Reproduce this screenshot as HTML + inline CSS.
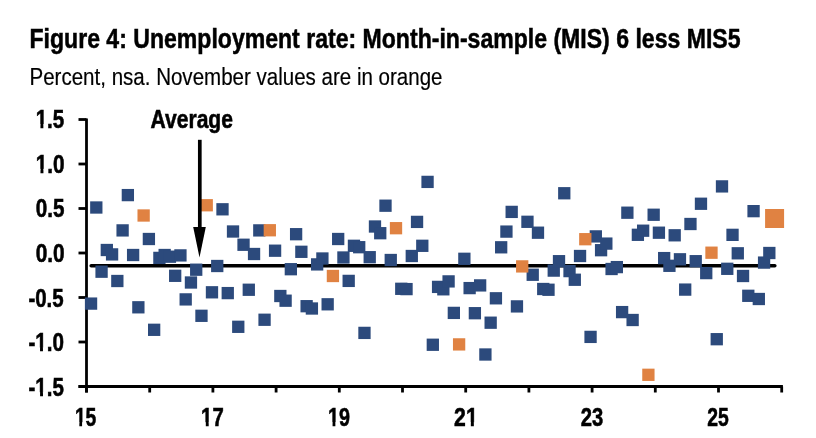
<!DOCTYPE html>
<html><head><meta charset="utf-8"><style>
html,body{margin:0;padding:0;background:#fff;}
svg{display:block;will-change:transform;}
text{font-family:"Liberation Sans",sans-serif;fill:#000;}
</style></head><body>
<svg width="816" height="438" viewBox="0 0 816 438">
<g stroke="#000" stroke-width="2.8" fill="none">
<line x1="86.5" y1="118.6" x2="86.5" y2="392.5"/>
<line x1="78.5" y1="119.50" x2="86.5" y2="119.50"/>
<line x1="78.5" y1="164.00" x2="86.5" y2="164.00"/>
<line x1="78.5" y1="208.50" x2="86.5" y2="208.50"/>
<line x1="78.5" y1="253.00" x2="86.5" y2="253.00"/>
<line x1="78.5" y1="297.50" x2="86.5" y2="297.50"/>
<line x1="78.5" y1="342.00" x2="86.5" y2="342.00"/>
<line x1="78.5" y1="386.50" x2="86.5" y2="386.50"/>
<line x1="78.5" y1="386.5" x2="782.9" y2="386.5"/>
<line x1="86.50" y1="386.5" x2="86.50" y2="392.5"/>
<line x1="149.70" y1="386.5" x2="149.70" y2="392.5"/>
<line x1="212.90" y1="386.5" x2="212.90" y2="392.5"/>
<line x1="276.10" y1="386.5" x2="276.10" y2="392.5"/>
<line x1="339.30" y1="386.5" x2="339.30" y2="392.5"/>
<line x1="402.50" y1="386.5" x2="402.50" y2="392.5"/>
<line x1="465.70" y1="386.5" x2="465.70" y2="392.5"/>
<line x1="528.90" y1="386.5" x2="528.90" y2="392.5"/>
<line x1="592.10" y1="386.5" x2="592.10" y2="392.5"/>
<line x1="655.30" y1="386.5" x2="655.30" y2="392.5"/>
<line x1="718.50" y1="386.5" x2="718.50" y2="392.5"/>
<line x1="781.70" y1="386.5" x2="781.70" y2="392.5"/>
</g>
<line x1="91.2" y1="265.7" x2="774.8" y2="265.7" stroke="#000" stroke-width="3.6" stroke-linecap="round"/>
<rect x="84.90" y="297.45" width="12.3" height="12.3" fill="#2c4a7c"/>
<rect x="90.16" y="201.35" width="12.3" height="12.3" fill="#2c4a7c"/>
<rect x="95.42" y="265.55" width="12.3" height="12.3" fill="#2c4a7c"/>
<rect x="100.67" y="243.85" width="12.3" height="12.3" fill="#2c4a7c"/>
<rect x="105.93" y="248.25" width="12.3" height="12.3" fill="#2c4a7c"/>
<rect x="111.19" y="274.85" width="12.3" height="12.3" fill="#2c4a7c"/>
<rect x="116.45" y="224.25" width="12.3" height="12.3" fill="#2c4a7c"/>
<rect x="121.71" y="188.95" width="12.3" height="12.3" fill="#2c4a7c"/>
<rect x="126.96" y="248.85" width="12.3" height="12.3" fill="#2c4a7c"/>
<rect x="132.22" y="301.15" width="12.3" height="12.3" fill="#2c4a7c"/>
<rect x="142.74" y="232.85" width="12.3" height="12.3" fill="#2c4a7c"/>
<rect x="148.00" y="323.65" width="12.3" height="12.3" fill="#2c4a7c"/>
<rect x="153.25" y="251.75" width="12.3" height="12.3" fill="#2c4a7c"/>
<rect x="158.51" y="248.85" width="12.3" height="12.3" fill="#2c4a7c"/>
<rect x="163.77" y="250.55" width="12.3" height="12.3" fill="#2c4a7c"/>
<rect x="169.03" y="269.65" width="12.3" height="12.3" fill="#2c4a7c"/>
<rect x="174.29" y="249.25" width="12.3" height="12.3" fill="#2c4a7c"/>
<rect x="179.54" y="293.25" width="12.3" height="12.3" fill="#2c4a7c"/>
<rect x="184.80" y="276.35" width="12.3" height="12.3" fill="#2c4a7c"/>
<rect x="190.06" y="263.55" width="12.3" height="12.3" fill="#2c4a7c"/>
<rect x="195.32" y="309.65" width="12.3" height="12.3" fill="#2c4a7c"/>
<rect x="205.83" y="286.15" width="12.3" height="12.3" fill="#2c4a7c"/>
<rect x="211.09" y="259.85" width="12.3" height="12.3" fill="#2c4a7c"/>
<rect x="216.35" y="203.15" width="12.3" height="12.3" fill="#2c4a7c"/>
<rect x="221.61" y="286.95" width="12.3" height="12.3" fill="#2c4a7c"/>
<rect x="226.87" y="225.35" width="12.3" height="12.3" fill="#2c4a7c"/>
<rect x="232.12" y="320.65" width="12.3" height="12.3" fill="#2c4a7c"/>
<rect x="237.38" y="238.60" width="12.3" height="12.3" fill="#2c4a7c"/>
<rect x="242.64" y="283.60" width="12.3" height="12.3" fill="#2c4a7c"/>
<rect x="247.90" y="247.85" width="12.3" height="12.3" fill="#2c4a7c"/>
<rect x="253.16" y="224.25" width="12.3" height="12.3" fill="#2c4a7c"/>
<rect x="258.41" y="313.60" width="12.3" height="12.3" fill="#2c4a7c"/>
<rect x="268.93" y="244.55" width="12.3" height="12.3" fill="#2c4a7c"/>
<rect x="274.19" y="289.85" width="12.3" height="12.3" fill="#2c4a7c"/>
<rect x="279.45" y="294.55" width="12.3" height="12.3" fill="#2c4a7c"/>
<rect x="284.70" y="263.05" width="12.3" height="12.3" fill="#2c4a7c"/>
<rect x="289.96" y="228.05" width="12.3" height="12.3" fill="#2c4a7c"/>
<rect x="295.22" y="245.65" width="12.3" height="12.3" fill="#2c4a7c"/>
<rect x="300.48" y="300.05" width="12.3" height="12.3" fill="#2c4a7c"/>
<rect x="305.74" y="302.35" width="12.3" height="12.3" fill="#2c4a7c"/>
<rect x="310.99" y="258.25" width="12.3" height="12.3" fill="#2c4a7c"/>
<rect x="316.25" y="252.35" width="12.3" height="12.3" fill="#2c4a7c"/>
<rect x="321.51" y="298.15" width="12.3" height="12.3" fill="#2c4a7c"/>
<rect x="332.03" y="232.85" width="12.3" height="12.3" fill="#2c4a7c"/>
<rect x="337.28" y="251.35" width="12.3" height="12.3" fill="#2c4a7c"/>
<rect x="342.54" y="274.75" width="12.3" height="12.3" fill="#2c4a7c"/>
<rect x="347.80" y="239.65" width="12.3" height="12.3" fill="#2c4a7c"/>
<rect x="353.06" y="241.05" width="12.3" height="12.3" fill="#2c4a7c"/>
<rect x="358.32" y="326.75" width="12.3" height="12.3" fill="#2c4a7c"/>
<rect x="363.57" y="251.05" width="12.3" height="12.3" fill="#2c4a7c"/>
<rect x="368.83" y="220.35" width="12.3" height="12.3" fill="#2c4a7c"/>
<rect x="374.09" y="227.05" width="12.3" height="12.3" fill="#2c4a7c"/>
<rect x="379.35" y="199.55" width="12.3" height="12.3" fill="#2c4a7c"/>
<rect x="384.61" y="253.85" width="12.3" height="12.3" fill="#2c4a7c"/>
<rect x="395.12" y="282.65" width="12.3" height="12.3" fill="#2c4a7c"/>
<rect x="400.38" y="282.95" width="12.3" height="12.3" fill="#2c4a7c"/>
<rect x="405.64" y="249.85" width="12.3" height="12.3" fill="#2c4a7c"/>
<rect x="410.90" y="215.75" width="12.3" height="12.3" fill="#2c4a7c"/>
<rect x="416.15" y="239.65" width="12.3" height="12.3" fill="#2c4a7c"/>
<rect x="421.41" y="175.75" width="12.3" height="12.3" fill="#2c4a7c"/>
<rect x="426.67" y="338.60" width="12.3" height="12.3" fill="#2c4a7c"/>
<rect x="431.93" y="280.75" width="12.3" height="12.3" fill="#2c4a7c"/>
<rect x="437.19" y="283.15" width="12.3" height="12.3" fill="#2c4a7c"/>
<rect x="442.44" y="275.25" width="12.3" height="12.3" fill="#2c4a7c"/>
<rect x="447.70" y="306.75" width="12.3" height="12.3" fill="#2c4a7c"/>
<rect x="458.22" y="252.65" width="12.3" height="12.3" fill="#2c4a7c"/>
<rect x="463.48" y="281.95" width="12.3" height="12.3" fill="#2c4a7c"/>
<rect x="468.73" y="307.05" width="12.3" height="12.3" fill="#2c4a7c"/>
<rect x="473.99" y="279.25" width="12.3" height="12.3" fill="#2c4a7c"/>
<rect x="479.25" y="348.35" width="12.3" height="12.3" fill="#2c4a7c"/>
<rect x="484.51" y="316.55" width="12.3" height="12.3" fill="#2c4a7c"/>
<rect x="489.77" y="292.15" width="12.3" height="12.3" fill="#2c4a7c"/>
<rect x="495.02" y="241.15" width="12.3" height="12.3" fill="#2c4a7c"/>
<rect x="500.28" y="225.45" width="12.3" height="12.3" fill="#2c4a7c"/>
<rect x="505.54" y="205.75" width="12.3" height="12.3" fill="#2c4a7c"/>
<rect x="510.80" y="300.25" width="12.3" height="12.3" fill="#2c4a7c"/>
<rect x="521.31" y="215.65" width="12.3" height="12.3" fill="#2c4a7c"/>
<rect x="526.57" y="268.60" width="12.3" height="12.3" fill="#2c4a7c"/>
<rect x="531.83" y="226.55" width="12.3" height="12.3" fill="#2c4a7c"/>
<rect x="537.09" y="282.85" width="12.3" height="12.3" fill="#2c4a7c"/>
<rect x="542.35" y="283.60" width="12.3" height="12.3" fill="#2c4a7c"/>
<rect x="547.60" y="264.45" width="12.3" height="12.3" fill="#2c4a7c"/>
<rect x="552.86" y="255.05" width="12.3" height="12.3" fill="#2c4a7c"/>
<rect x="558.12" y="187.10" width="12.3" height="12.3" fill="#2c4a7c"/>
<rect x="563.38" y="264.95" width="12.3" height="12.3" fill="#2c4a7c"/>
<rect x="568.64" y="273.60" width="12.3" height="12.3" fill="#2c4a7c"/>
<rect x="573.89" y="249.85" width="12.3" height="12.3" fill="#2c4a7c"/>
<rect x="584.41" y="330.75" width="12.3" height="12.3" fill="#2c4a7c"/>
<rect x="589.67" y="230.25" width="12.3" height="12.3" fill="#2c4a7c"/>
<rect x="594.93" y="244.05" width="12.3" height="12.3" fill="#2c4a7c"/>
<rect x="600.18" y="237.45" width="12.3" height="12.3" fill="#2c4a7c"/>
<rect x="605.44" y="262.85" width="12.3" height="12.3" fill="#2c4a7c"/>
<rect x="610.70" y="260.95" width="12.3" height="12.3" fill="#2c4a7c"/>
<rect x="615.96" y="305.95" width="12.3" height="12.3" fill="#2c4a7c"/>
<rect x="621.22" y="206.55" width="12.3" height="12.3" fill="#2c4a7c"/>
<rect x="626.47" y="313.85" width="12.3" height="12.3" fill="#2c4a7c"/>
<rect x="631.73" y="228.65" width="12.3" height="12.3" fill="#2c4a7c"/>
<rect x="636.99" y="224.55" width="12.3" height="12.3" fill="#2c4a7c"/>
<rect x="647.51" y="208.60" width="12.3" height="12.3" fill="#2c4a7c"/>
<rect x="652.76" y="226.55" width="12.3" height="12.3" fill="#2c4a7c"/>
<rect x="658.02" y="251.95" width="12.3" height="12.3" fill="#2c4a7c"/>
<rect x="663.28" y="259.65" width="12.3" height="12.3" fill="#2c4a7c"/>
<rect x="668.54" y="229.15" width="12.3" height="12.3" fill="#2c4a7c"/>
<rect x="673.80" y="253.15" width="12.3" height="12.3" fill="#2c4a7c"/>
<rect x="679.05" y="283.45" width="12.3" height="12.3" fill="#2c4a7c"/>
<rect x="684.31" y="217.85" width="12.3" height="12.3" fill="#2c4a7c"/>
<rect x="689.57" y="255.05" width="12.3" height="12.3" fill="#2c4a7c"/>
<rect x="694.83" y="197.60" width="12.3" height="12.3" fill="#2c4a7c"/>
<rect x="700.09" y="266.95" width="12.3" height="12.3" fill="#2c4a7c"/>
<rect x="710.60" y="333.05" width="12.3" height="12.3" fill="#2c4a7c"/>
<rect x="715.86" y="180.25" width="12.3" height="12.3" fill="#2c4a7c"/>
<rect x="721.12" y="262.65" width="12.3" height="12.3" fill="#2c4a7c"/>
<rect x="726.38" y="228.70" width="12.3" height="12.3" fill="#2c4a7c"/>
<rect x="731.63" y="247.15" width="12.3" height="12.3" fill="#2c4a7c"/>
<rect x="736.89" y="269.85" width="12.3" height="12.3" fill="#2c4a7c"/>
<rect x="742.15" y="289.65" width="12.3" height="12.3" fill="#2c4a7c"/>
<rect x="747.41" y="205.00" width="12.3" height="12.3" fill="#2c4a7c"/>
<rect x="752.67" y="292.85" width="12.3" height="12.3" fill="#2c4a7c"/>
<rect x="757.92" y="256.45" width="12.3" height="12.3" fill="#2c4a7c"/>
<rect x="763.18" y="246.85" width="12.3" height="12.3" fill="#2c4a7c"/>
<rect x="137.48" y="209.35" width="12.3" height="12.3" fill="#e08242"/>
<rect x="200.58" y="199.10" width="12.3" height="12.3" fill="#e08242"/>
<rect x="263.67" y="224.10" width="12.3" height="12.3" fill="#e08242"/>
<rect x="326.77" y="269.85" width="12.3" height="12.3" fill="#e08242"/>
<rect x="389.86" y="222.05" width="12.3" height="12.3" fill="#e08242"/>
<rect x="452.96" y="338.25" width="12.3" height="12.3" fill="#e08242"/>
<rect x="516.06" y="260.25" width="12.3" height="12.3" fill="#e08242"/>
<rect x="579.15" y="233.05" width="12.3" height="12.3" fill="#e08242"/>
<rect x="642.25" y="368.65" width="12.3" height="12.3" fill="#e08242"/>
<rect x="705.34" y="246.55" width="12.3" height="12.3" fill="#e08242"/>
<rect x="765.09" y="209.00" width="19.0" height="19.0" fill="#e08242"/>
<line x1="199.8" y1="139.8" x2="199.8" y2="235" stroke="#000" stroke-width="3.7"/>
<polygon points="193.2,227 205.8,227 199.5,257.5" fill="#000"/>
<text x="29.5" y="47.9" font-size="28.5" font-weight="bold" stroke="#000" stroke-width="0.55" textLength="711" lengthAdjust="spacingAndGlyphs">Figure 4: Unemployment rate: Month-in-sample (MIS) 6 less MIS5</text>
<text x="29.5" y="84.9" font-size="24.4" font-weight="normal" stroke="#000" stroke-width="0.2" textLength="413" lengthAdjust="spacingAndGlyphs">Percent, nsa. November values are in orange</text>
<text x="150.5" y="127.9" font-size="25.4" font-weight="bold" stroke="#000" stroke-width="0.55" textLength="82.5" lengthAdjust="spacingAndGlyphs">Average</text>
<text transform="translate(35.69,127.90) scale(0.8030,1)" font-size="25.6" font-weight="bold" stroke="#000" stroke-width="0.6">1.5</text>
<text transform="translate(35.68,172.57) scale(0.8113,1)" font-size="25.6" font-weight="bold" stroke="#000" stroke-width="0.6">1.0</text>
<text transform="translate(35.68,217.24) scale(0.8062,1)" font-size="25.6" font-weight="bold" stroke="#000" stroke-width="0.6">0.5</text>
<text transform="translate(35.68,261.91) scale(0.8143,1)" font-size="25.6" font-weight="bold" stroke="#000" stroke-width="0.6">0.0</text>
<text transform="translate(28.40,306.58) scale(0.7995,1)" font-size="25.6" font-weight="bold" stroke="#000" stroke-width="0.6">-0.5</text>
<text transform="translate(28.39,351.25) scale(0.8059,1)" font-size="25.6" font-weight="bold" stroke="#000" stroke-width="0.6">-1.0</text>
<text transform="translate(28.50,395.92) scale(0.8019,1)" font-size="25.6" font-weight="bold" stroke="#000" stroke-width="0.6">-1.5</text>
<text transform="translate(74.88,426.10) scale(0.7307,1)" font-size="26.4" font-weight="bold" stroke="#000" stroke-width="0.6">15</text>
<text transform="translate(201.11,426.10) scale(0.7689,1)" font-size="26.4" font-weight="bold" stroke="#000" stroke-width="0.6">17</text>
<text transform="translate(328.00,426.10) scale(0.7487,1)" font-size="26.4" font-weight="bold" stroke="#000" stroke-width="0.6">19</text>
<text transform="translate(454.06,426.10) scale(0.8068,1)" font-size="26.4" font-weight="bold" stroke="#000" stroke-width="0.6">21</text>
<text transform="translate(580.80,426.10) scale(0.7656,1)" font-size="26.4" font-weight="bold" stroke="#000" stroke-width="0.6">23</text>
<text transform="translate(707.13,426.10) scale(0.7325,1)" font-size="26.4" font-weight="bold" stroke="#000" stroke-width="0.6">25</text>
<rect x="35.20" y="124.19" width="5.24" height="5.21" fill="#fff"/>
<rect x="43.36" y="124.19" width="4.47" height="5.21" fill="#fff"/>
<rect x="35.19" y="168.86" width="5.28" height="5.21" fill="#fff"/>
<rect x="43.43" y="168.86" width="4.51" height="5.21" fill="#fff"/>
<rect x="34.77" y="347.54" width="5.26" height="5.21" fill="#fff"/>
<rect x="42.96" y="347.54" width="4.49" height="5.21" fill="#fff"/>
<rect x="34.84" y="392.21" width="5.24" height="5.21" fill="#fff"/>
<rect x="42.99" y="392.21" width="4.47" height="5.21" fill="#fff"/>
<rect x="74.32" y="422.31" width="5.01" height="5.29" fill="#fff"/>
<rect x="82.08" y="422.31" width="4.26" height="5.29" fill="#fff"/>
<rect x="200.60" y="422.31" width="5.20" height="5.29" fill="#fff"/>
<rect x="208.69" y="422.31" width="4.43" height="5.29" fill="#fff"/>
<rect x="327.46" y="422.31" width="5.10" height="5.29" fill="#fff"/>
<rect x="335.37" y="422.31" width="4.34" height="5.29" fill="#fff"/>
<rect x="465.45" y="422.31" width="5.38" height="5.29" fill="#fff"/>
<rect x="473.85" y="422.31" width="4.60" height="5.29" fill="#fff"/>
</svg>
</body></html>
